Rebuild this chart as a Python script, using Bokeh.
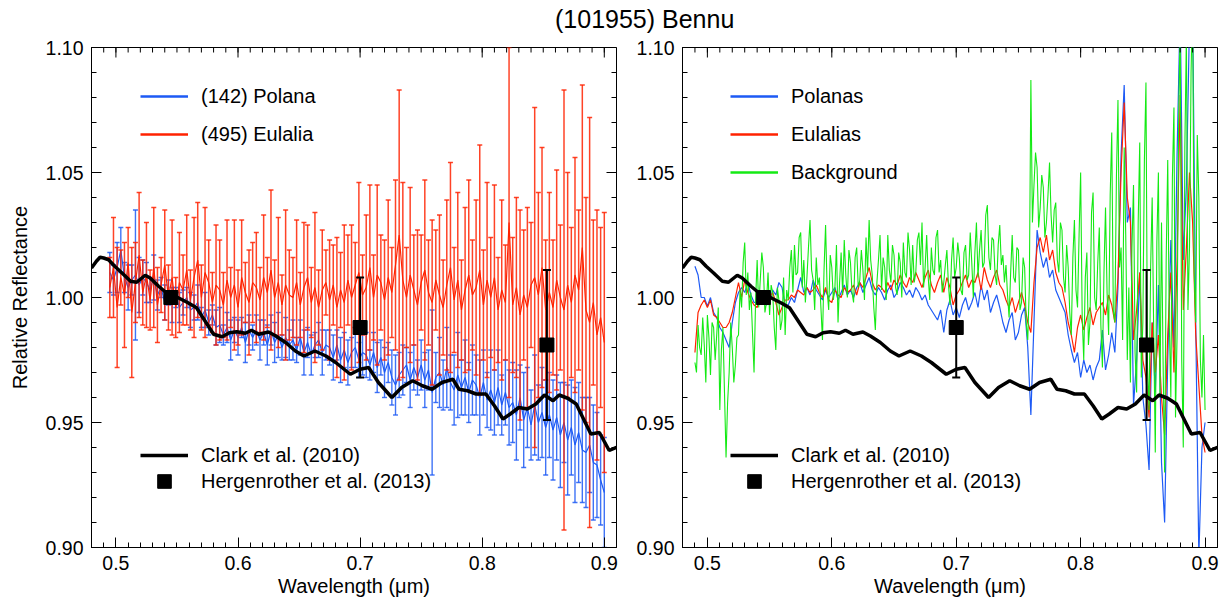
import numpy as np
from bokeh.plotting import figure
from bokeh.models import (FixedTicker, PrintfTickFormatter, Legend,
                          LegendItem, Div, Range1d)
from bokeh.layouts import row, column
from bokeh.embed import file_html
from bokeh.resources import INLINE

FONT = "Liberation Sans"
BLUE = "#1d5af5"
RED = "#ff2200"
GREEN = "#14ea14"

title_text = "(101955) Bennu"
x_label = "Wavelength (\u03bcm)"
y_label = "Relative Reflectance"
x_range = (0.48, 0.91)
y_range = (0.90, 1.10)
x_major = [0.5, 0.6, 0.7, 0.8, 0.9]
y_major = [0.90, 0.95, 1.00, 1.05, 1.10]
x_minor = [round(0.48 + 0.01 * i, 2) for i in range(44)]
y_minor = [round(0.90 + 0.01 * i, 2) for i in range(21)]

# Clark et al. (2010) spectrum
clark_wl = [0.480, 0.484, 0.487, 0.490, 0.494, 0.499, 0.505, 0.512, 0.517, 0.524,
            0.528, 0.535, 0.543, 0.551, 0.559, 0.566, 0.573, 0.580, 0.587, 0.593,
            0.599, 0.606, 0.611, 0.617, 0.625, 0.631, 0.639, 0.647, 0.654, 0.663,
            0.672, 0.680, 0.692, 0.700, 0.707, 0.715, 0.726, 0.734, 0.743, 0.751,
            0.759, 0.767, 0.776, 0.781, 0.788, 0.795, 0.803, 0.810, 0.817, 0.823,
            0.830, 0.837, 0.844, 0.851, 0.858, 0.863, 0.870, 0.877, 0.883, 0.889,
            0.896, 0.904, 0.910]
clark_refl = [1.0118, 1.0145, 1.0161, 1.0158, 1.0151, 1.0125, 1.0098, 1.0065, 1.0061, 1.0089,
              1.0078, 1.0045, 1.0012, 0.9999, 0.9979, 0.9959, 0.9906, 0.9853, 0.9843, 0.9859,
              0.9863, 0.9857, 0.9869, 0.9853, 0.9862, 0.9846, 0.9820, 0.9786, 0.9766, 0.9786,
              0.9766, 0.9740, 0.9693, 0.9713, 0.9720, 0.9660, 0.9600, 0.9640, 0.9667, 0.9647,
              0.9633, 0.9660, 0.9673, 0.9633, 0.9627, 0.9614, 0.9614, 0.9567, 0.9514, 0.9534,
              0.9560, 0.9554, 0.9574, 0.9610, 0.9587, 0.9610, 0.9597, 0.9574, 0.9514, 0.9454,
              0.9460, 0.9388, 0.9401]

# Hergenrother et al. (2013)
herg_wl = [0.545, 0.700, 0.853]
herg_refl = [1.000, 0.988, 0.981]
herg_err = [0.000, 0.020, 0.030]

# Left panel: (142) Polana and (495) Eulalia, start 0.495 um, step 0.003 um
left_start, left_step = 0.495, 0.003
polana_refl = [
    1.010, 1.007, 1.012, 1.019, 1.008, 1.004, 1.007, 1.009, 1.005, 1.008,
    1.006, 1.003, 1.008, 1.001, 1.004, 0.998, 1.002, 0.997, 1.000, 0.996,
    0.998, 1.000, 0.995, 0.996, 0.998, 0.992, 0.995, 0.990, 0.993, 0.988,
    0.989, 0.985, 0.988, 0.983, 0.987, 0.984, 0.988, 0.982, 0.987, 0.984,
    0.987, 0.983, 0.986, 0.981, 0.987, 0.982, 0.985, 0.980, 0.984, 0.981,
    0.983, 0.979, 0.984, 0.978, 0.982, 0.977, 0.981, 0.983, 0.978, 0.981,
    0.980, 0.976, 0.981, 0.975, 0.979, 0.974, 0.978, 0.980, 0.975, 0.978,
    0.977, 0.973, 0.978, 0.972, 0.976, 0.970, 0.974, 0.968, 0.965, 0.969,
    0.971, 0.973, 0.967, 0.972, 0.968, 0.973, 0.967, 0.971, 0.962, 0.968,
    0.970, 0.965, 0.972, 0.966, 0.963, 0.969, 0.964, 0.968, 0.962, 0.967,
    0.965, 0.960, 0.966, 0.959, 0.963, 0.958, 0.964, 0.957, 0.962, 0.956,
    0.958, 0.953, 0.960, 0.951, 0.956, 0.949, 0.957, 0.950, 0.954, 0.948,
    0.953, 0.947, 0.952, 0.945, 0.950, 0.943, 0.948, 0.941, 0.946, 0.939,
    0.938, 0.941, 0.934, 0.933, 0.927, 0.922]
polana_err = [
    0.008, 0.006, 0.010, 0.009, 0.006, 0.009, 0.006, 0.026, 0.011, 0.007,
    0.008, 0.005, 0.009, 0.006, 0.004, 0.007, 0.005, 0.007, 0.004, 0.006,
    0.005, 0.004, 0.007, 0.005, 0.007, 0.004, 0.007, 0.005, 0.004, 0.007,
    0.007, 0.004, 0.006, 0.008, 0.005, 0.007, 0.004, 0.008, 0.006, 0.005,
    0.006, 0.008, 0.005, 0.008, 0.006, 0.008, 0.009, 0.005, 0.008, 0.006,
    0.008, 0.005, 0.007, 0.009, 0.006, 0.008, 0.005, 0.007, 0.009, 0.006,
    0.007, 0.009, 0.006, 0.009, 0.007, 0.009, 0.006, 0.008, 0.007, 0.009,
    0.009, 0.006, 0.008, 0.010, 0.007, 0.010, 0.008, 0.011, 0.012, 0.009,
    0.010, 0.007, 0.011, 0.009, 0.007, 0.010, 0.011, 0.008, 0.033, 0.010,
    0.014, 0.010, 0.016, 0.011, 0.014, 0.017, 0.011, 0.015, 0.012, 0.014,
    0.012, 0.015, 0.013, 0.011, 0.016, 0.013, 0.015, 0.012, 0.013, 0.015,
    0.016, 0.018, 0.013, 0.019, 0.016, 0.014, 0.020, 0.015, 0.018, 0.019,
    0.017, 0.020, 0.017, 0.021, 0.016, 0.022, 0.019, 0.023, 0.020, 0.021,
    0.022, 0.019, 0.023, 0.021, 0.018, 0.022]
eulalia_refl = [
    1.004, 1.012, 0.996, 1.008, 1.001, 1.014, 0.994, 1.006, 1.017, 1.002,
    1.009, 0.999, 1.012, 0.997, 1.005, 1.013, 1.000, 1.008, 0.996, 1.006,
    1.003, 1.011, 0.999, 1.008, 1.015, 1.000, 1.010, 1.006, 0.998, 1.005,
    1.003, 0.997, 1.007, 1.000, 1.005, 0.996, 1.008, 1.002, 0.998, 1.006,
    1.004, 0.999, 1.008, 1.002, 1.011, 1.000, 1.006, 0.997, 1.005, 1.001,
    1.000, 1.006, 0.997, 1.004, 1.008, 0.998, 1.004, 0.996, 1.003, 1.006,
    0.999, 1.005, 0.996, 1.003, 0.998, 1.007, 1.000, 1.005, 1.010, 1.001,
    1.004, 1.012, 1.000, 1.009, 1.006, 0.999, 1.008, 1.002, 1.013, 1.025,
    1.007, 1.000, 1.009, 1.003, 0.997, 1.006, 1.011, 1.002, 0.998, 1.007,
    1.001, 0.996, 1.005, 1.012, 0.999, 1.007, 0.995, 1.003, 1.009, 1.001,
    1.004, 1.011, 0.997, 1.007, 1.000, 1.008, 0.995, 1.003, 0.998, 1.030,
    0.997, 1.004, 0.993, 1.001, 0.996, 1.005, 1.008, 1.001, 1.012, 0.995,
    1.002, 0.996, 1.007, 1.000, 0.995, 1.005, 0.998, 1.009, 1.003, 1.020,
    0.995, 0.990, 0.998, 0.985, 0.992, 0.982]
eulalia_err = [
    0.012, 0.020, 0.024, 0.011, 0.021, 0.014, 0.026, 0.016, 0.025, 0.013,
    0.021, 0.012, 0.024, 0.015, 0.011, 0.022, 0.013, 0.023, 0.012, 0.020,
    0.014, 0.022, 0.012, 0.024, 0.023, 0.013, 0.026, 0.017, 0.012, 0.024,
    0.020, 0.013, 0.024, 0.012, 0.026, 0.015, 0.023, 0.012, 0.021, 0.016,
    0.022, 0.013, 0.025, 0.014, 0.032, 0.015, 0.026, 0.012, 0.030, 0.018,
    0.016, 0.025, 0.013, 0.026, 0.021, 0.014, 0.030, 0.015, 0.024, 0.013,
    0.024, 0.016, 0.028, 0.015, 0.031, 0.018, 0.029, 0.017, 0.036, 0.016,
    0.029, 0.033, 0.017, 0.036, 0.019, 0.024, 0.031, 0.018, 0.034, 0.058,
    0.039, 0.020, 0.035, 0.022, 0.030, 0.019, 0.036, 0.021, 0.033, 0.020,
    0.032, 0.019, 0.034, 0.042, 0.021, 0.035, 0.020, 0.033, 0.038, 0.022,
    0.035, 0.050, 0.022, 0.039, 0.024, 0.037, 0.021, 0.036, 0.023, 0.070,
    0.027, 0.036, 0.042, 0.026, 0.040, 0.025, 0.068, 0.041, 0.048, 0.028,
    0.040, 0.027, 0.044, 0.029, 0.088, 0.045, 0.030, 0.047, 0.032, 0.065,
    0.045, 0.082, 0.033, 0.050, 0.036, 0.052]

# Right panel: Polanas and Eulalias (start 0.490 um, step 0.0025 um)
right_start, right_step = 0.490, 0.0025
polanas_refl = [
    1.0125, 1.009, 1.000, 1.000, 0.9965, 1.000, 0.994, 0.992, 0.988, 0.986,
    0.983, 0.980, 0.990, 0.998, 1.002, 1.004, 1.002, 1.006, 1.001, 0.998,
    0.998, 1.002, 1.000, 0.997, 0.998, 1.003, 1.001, 1.006, 1.004, 0.997,
    0.997, 1.000, 0.998, 1.003, 1.008, 1.002, 1.004, 1.001, 1.007, 1.003,
    1.001, 0.999, 1.003, 1.000, 1.002, 1.004, 0.999, 1.002, 1.005, 1.001,
    1.003, 1.000, 1.004, 1.006, 1.002, 1.005, 1.008, 1.003, 1.001, 1.004,
    1.002, 0.999, 1.003, 1.005, 1.000, 1.002, 1.006, 1.004, 1.001, 1.003,
    1.000, 1.004, 1.002, 0.999, 1.001, 0.997, 0.995, 0.993, 0.991, 0.995,
    0.986, 0.995, 0.999, 0.993, 0.996, 0.992, 0.997, 1.000, 0.995, 0.998,
    1.002, 0.996, 1.005, 0.999, 1.003, 0.994, 0.998, 1.001, 0.996, 0.990,
    0.986, 0.991, 0.994, 0.983, 0.986, 0.993, 0.996, 0.980, 0.953, 0.990,
    1.027, 1.018, 1.012, 1.016, 1.008, 1.011, 1.003, 1.000, 0.997, 0.994,
    0.985, 0.979, 0.974, 0.978, 0.968, 0.975, 0.970, 0.973, 0.967, 0.972,
    0.975, 0.987, 0.971, 0.977, 0.986, 0.978, 1.004, 1.057, 1.085, 1.030,
    1.036, 0.957, 0.975, 1.010, 0.960, 0.949, 0.931, 0.990, 0.962, 1.005,
    0.934, 0.910, 0.975, 1.023, 0.980, 1.057, 1.115, 1.015, 1.045, 1.110,
    1.115, 0.990, 0.896, 0.940, 0.950]
eulalias_refl = [
    0.978, 0.994, 0.997, 0.999, 0.996, 0.999, 0.993, 0.992, 0.990, 0.988,
    0.988, 0.990, 0.994, 1.000, 1.006, 1.000, 1.007, 1.002, 0.999, 0.997,
    0.996, 1.000, 1.002, 0.999, 1.000, 1.002, 0.998, 0.993, 0.996, 0.999,
    0.999, 1.001, 1.000, 1.003, 1.002, 1.001, 1.004, 1.002, 1.003, 1.005,
    1.002, 1.000, 1.004, 0.999, 0.998, 1.003, 1.001, 1.000, 1.004, 1.002,
    1.003, 1.005, 1.001, 1.006, 1.004, 1.008, 1.012, 1.006, 1.003, 1.005,
    1.004, 1.002, 1.006, 1.003, 1.007, 1.005, 1.009, 1.006, 1.004, 1.008,
    1.006, 1.010, 1.007, 1.004, 1.008, 1.011, 1.005, 1.002, 1.006, 1.009,
    1.002, 1.008, 1.004, 0.997, 1.001, 1.003, 1.006, 1.009, 1.004, 1.007,
    1.006, 1.010, 1.003, 1.012, 1.007, 1.004, 1.008, 1.011, 1.005, 1.003,
    0.999, 0.996, 1.000, 0.994, 0.998, 1.002, 0.997, 0.990, 0.986, 1.006,
    1.020, 1.024, 1.018, 1.025, 1.015, 1.019, 1.010, 1.006, 1.004, 0.998,
    0.990, 0.985, 0.978, 0.988, 0.993, 0.987, 0.992, 0.996, 0.989, 0.994,
    0.996, 0.998, 0.993, 1.001, 0.997, 0.990, 1.008, 1.050, 1.078, 1.040,
    1.030, 0.983, 0.995, 1.010, 0.975, 0.968, 0.952, 0.990, 0.970, 0.985,
    0.960, 0.945, 0.985, 1.010, 0.970, 1.015, 1.081, 0.995, 1.020, 1.050,
    1.030, 0.985, 0.965, 0.945, 0.938]
# Background (start 0.490 um, step 0.00125 um)
bg_start, bg_step = 0.490, 0.00125
background_refl = [
    0.974, 0.970, 0.989, 0.980, 0.977, 0.992, 0.981, 0.966, 0.993, 0.984,
    0.969, 0.990, 0.988, 0.975, 0.985, 0.996, 0.955, 0.979, 0.988, 0.962,
    0.936, 0.958, 0.970, 0.990, 0.980, 0.966, 0.973, 0.984, 0.985, 1.003,
    0.996, 1.014, 1.022, 1.001, 1.010, 0.995, 1.002, 0.986, 0.970, 0.999,
    1.015, 0.996, 1.007, 1.018, 1.012, 0.994, 0.998, 1.010, 0.993, 1.005,
    1.002, 0.988, 0.979, 1.004, 0.999, 0.987, 0.991, 1.008, 0.985, 1.003,
    0.999, 1.012, 1.019, 1.002, 1.021, 1.009, 1.010, 1.024, 1.026, 1.004,
    1.015, 0.998, 1.008, 1.020, 1.031, 1.011, 1.007, 0.995, 1.016, 1.005,
    1.008, 0.996, 0.983, 1.011, 1.029, 1.003, 0.995, 1.017, 1.012, 0.999,
    1.004, 1.021, 0.990, 1.006, 1.018, 1.001, 1.023, 1.009, 1.000, 1.019,
    1.014, 1.002, 0.998, 1.016, 1.020, 1.004, 1.007, 1.019, 1.011, 0.999,
    1.024, 1.010, 1.031, 1.015, 1.009, 0.996, 0.987, 1.006, 1.015, 1.025,
    1.003, 1.016, 1.012, 0.999, 1.025, 1.011, 1.006, 1.021, 1.017, 1.004,
    1.001, 1.018, 1.014, 1.000, 1.022, 1.010, 1.008, 1.026, 1.019, 1.005,
    1.021, 1.006, 1.010, 1.023, 1.026, 1.013, 1.030, 1.004, 1.012, 1.025,
    1.008, 0.999, 1.020, 1.011, 1.009, 1.024, 1.027, 1.010, 1.015, 1.002,
    1.006, 1.013, 1.019, 1.005, 0.997, 1.015, 1.024, 1.008, 1.012, 1.022,
    1.016, 1.003, 1.001, 1.018, 1.021, 1.007, 1.009, 1.026, 1.014, 1.000,
    1.018, 1.030, 1.008, 1.019, 1.027, 1.012, 1.014, 1.033, 1.037, 1.016,
    1.011, 1.024, 1.023, 1.009, 1.005, 1.021, 1.029, 1.013, 1.017, 1.006,
    1.013, 1.001, 0.992, 1.010, 1.025, 1.008, 1.006, 1.020, 1.019, 0.995,
    0.998, 1.016, 1.012, 0.990, 0.983, 1.004, 1.087, 1.030, 1.045, 1.058,
    1.052, 1.028, 1.036, 1.049, 1.044, 1.024, 1.030, 1.041, 1.054, 1.033,
    1.022, 1.035, 1.038, 1.015, 1.010, 1.030, 1.027, 1.008, 1.002, 1.021,
    1.012, 0.994, 0.985, 1.016, 1.031, 1.003, 0.996, 1.025, 1.050, 0.992,
    0.975, 1.008, 1.018, 0.981, 0.990, 1.034, 1.042, 1.000, 0.995, 1.014,
    1.028, 0.989, 0.972, 1.010, 1.036, 1.002, 0.985, 1.041, 1.066, 0.995,
    0.990, 1.048, 1.079, 1.012, 1.020, 0.983, 1.060, 1.025, 0.975, 1.004,
    0.966, 1.020, 1.045, 0.978, 0.962, 1.030, 1.062, 0.968, 0.990, 1.055,
    1.086, 0.972, 0.955, 1.012, 1.040, 0.985, 0.938, 1.022, 1.050, 0.960,
    1.030, 0.975, 0.930, 1.015, 1.055, 0.990, 0.960, 1.048, 1.076, 0.952,
    0.985, 1.070, 1.110, 0.975, 0.940, 1.060, 1.105, 0.995, 1.020, 1.090,
    1.120, 1.010, 0.990, 1.065, 1.040, 0.975, 0.960, 0.985, 0.955]


def grid(start, step, n):
    return np.round(start + step * np.arange(n), 5)


def style_axis(ax, ticks, minor, fmt):
    ax.ticker = FixedTicker(ticks=ticks, minor_ticks=minor)
    ax.formatter = PrintfTickFormatter(format=fmt)
    ax.major_tick_in = 10
    ax.major_tick_out = 0
    ax.minor_tick_in = 5
    ax.minor_tick_out = 0
    ax.axis_line_color = "black"
    ax.major_tick_line_color = "black"
    ax.minor_tick_line_color = "black"
    ax.major_label_text_font = FONT
    ax.major_label_text_color = "black"
    ax.major_label_text_font_size = "19.5px"
    ax.major_label_standoff = 8
    ax.axis_label_text_font = FONT
    ax.axis_label_text_font_size = "20px"
    ax.axis_label_text_font_style = "normal"
    ax.axis_label_text_color = "black"


def mirror_ticks(p):
    # tick marks on the top and right frame edges, pointing inwards
    xmaj = np.asarray(x_major)
    xmin = np.asarray(x_minor)
    ymaj = np.asarray(y_major)
    ymin = np.asarray(y_minor)
    p.ray(x=xmaj, y=np.full(len(xmaj), y_range[1]), length=10, length_units="screen",
          angle=-np.pi / 2, line_color="black", line_width=1)
    p.ray(x=xmin, y=np.full(len(xmin), y_range[1]), length=5, length_units="screen",
          angle=-np.pi / 2, line_color="black", line_width=1)
    p.ray(x=np.full(len(ymaj), x_range[1]), y=ymaj, length=10, length_units="screen",
          angle=np.pi, line_color="black", line_width=1)
    p.ray(x=np.full(len(ymin), x_range[1]), y=ymin, length=5, length_units="screen",
          angle=np.pi, line_color="black", line_width=1)


def make_fig(width, border_left, border_right, with_ylabel):
    p = figure(width=width, height=573,
               x_range=Range1d(*x_range), y_range=Range1d(*y_range),
               output_backend="svg", toolbar_location=None,
               min_border_left=border_left, min_border_right=border_right,
               min_border_top=13, min_border_bottom=60,
               background_fill_color="white", border_fill_color="white",
               outline_line_color="black", outline_line_width=1)
    p.xgrid.visible = False
    p.ygrid.visible = False
    xa = p.xaxis[0]
    ya = p.yaxis[0]
    style_axis(xa, x_major, x_minor, "%.1f")
    style_axis(ya, y_major, y_minor, "%.2f")
    xa.axis_label = x_label
    xa.axis_label_standoff = 2
    if with_ylabel:
        ya.axis_label = y_label
        ya.axis_label_standoff = 12
    return p


def error_bars(p, wl, refl, err, color, alpha=0.85, cap=5, width=1.2):
    refl = np.asarray(refl)
    err = np.asarray(err)
    lo = refl - err
    up = refl + err
    p.segment(x0=wl, y0=lo, x1=wl, y1=up, line_color=color, line_width=width, line_alpha=alpha)
    p.scatter(x=wl, y=up, marker="dash", size=cap, line_color=color, line_width=width, line_alpha=alpha)
    p.scatter(x=wl, y=lo, marker="dash", size=cap, line_color=color, line_width=width, line_alpha=alpha)


def add_reference(p):
    p.line(clark_wl, clark_refl, line_color="black", line_width=3.5)
    error_bars(p, herg_wl, herg_refl, herg_err, "black", alpha=1.0, cap=8, width=2)
    p.scatter(herg_wl, herg_refl, marker="square", size=14, fill_color="black", line_color="black")


NAN = np.array([np.nan])


def legend(items, loc, spacing, gh=24):
    return Legend(items=items, location=loc, orientation="vertical",
                  glyph_width=48, glyph_height=gh, label_height=gh,
                  label_standoff=13, spacing=spacing, padding=0, margin=0,
                  border_line_alpha=0, background_fill_alpha=0,
                  label_text_font=FONT, label_text_font_size="20px",
                  label_text_color="black")


def legend_line(p, color, width):
    return p.line(x=NAN, y=NAN, line_color=color, line_width=width)


def legend_square(p):
    return p.scatter(x=NAN, y=NAN, marker="square", size=14, fill_color="black", line_color="black")


def reference_legends(p, x0):
    p.add_layout(legend([LegendItem(label="Clark et al. (2010)",
                                    renderers=[legend_line(p, "black", 3.5)])], (x0, 80), 0))
    p.add_layout(legend([LegendItem(label="Hergenrother et al. (2013)",
                                    renderers=[legend_square(p)])], (x0, 49), 0, gh=34))


# ---------------- left panel ----------------
p1 = make_fig(630, 91, 14, True)
lwl_p = grid(left_start, left_step, len(polana_refl))
lwl_e = grid(left_start, left_step, len(eulalia_refl))
error_bars(p1, lwl_p, polana_refl, polana_err, BLUE, alpha=0.85, width=1.4)
p1.line(lwl_p, polana_refl, line_color=BLUE, line_width=1.2)
error_bars(p1, lwl_e, eulalia_refl, eulalia_err, RED, alpha=0.85, width=1.5)
p1.line(lwl_e, eulalia_refl, line_color=RED, line_width=1.2)
add_reference(p1)
mirror_ticks(p1)

p1.add_layout(legend([LegendItem(label="(142) Polana", renderers=[legend_line(p1, BLUE, 2.5)]),
                      LegendItem(label="(495) Eulalia", renderers=[legend_line(p1, RED, 2.5)])],
                     (49, 401), 14))
reference_legends(p1, 49)

# ---------------- right panel ----------------
p2 = make_fig(599, 52, 12, False)
p2.line(grid(right_start, right_step, len(polanas_refl)), polanas_refl, line_color=BLUE, line_width=1.2)
p2.line(grid(right_start, right_step, len(eulalias_refl)), eulalias_refl, line_color=RED, line_width=1.2)
p2.line(grid(bg_start, bg_step, len(background_refl)), background_refl, line_color=GREEN, line_width=1.1)
add_reference(p2)
mirror_ticks(p2)

p2.add_layout(legend([LegendItem(label="Polanas", renderers=[legend_line(p2, BLUE, 2.5)]),
                      LegendItem(label="Eulalias", renderers=[legend_line(p2, RED, 2.5)]),
                      LegendItem(label="Background", renderers=[legend_line(p2, GREEN, 2.5)])],
                     (48, 363), 14))
reference_legends(p2, 48)

title = Div(text=('<div style="font-family:\'Liberation Sans\',sans-serif;font-size:25px;'
                  'line-height:30px;margin-left:555px;margin-top:4px;white-space:nowrap;'
                  'color:black;">' + title_text + '</div>'),
            width=1229, height=34, margin=(0, 0, 0, 0))

layout = column(title, row(p1, p2, spacing=0), spacing=0)
open("out.html", "w").write(file_html(layout, INLINE))
